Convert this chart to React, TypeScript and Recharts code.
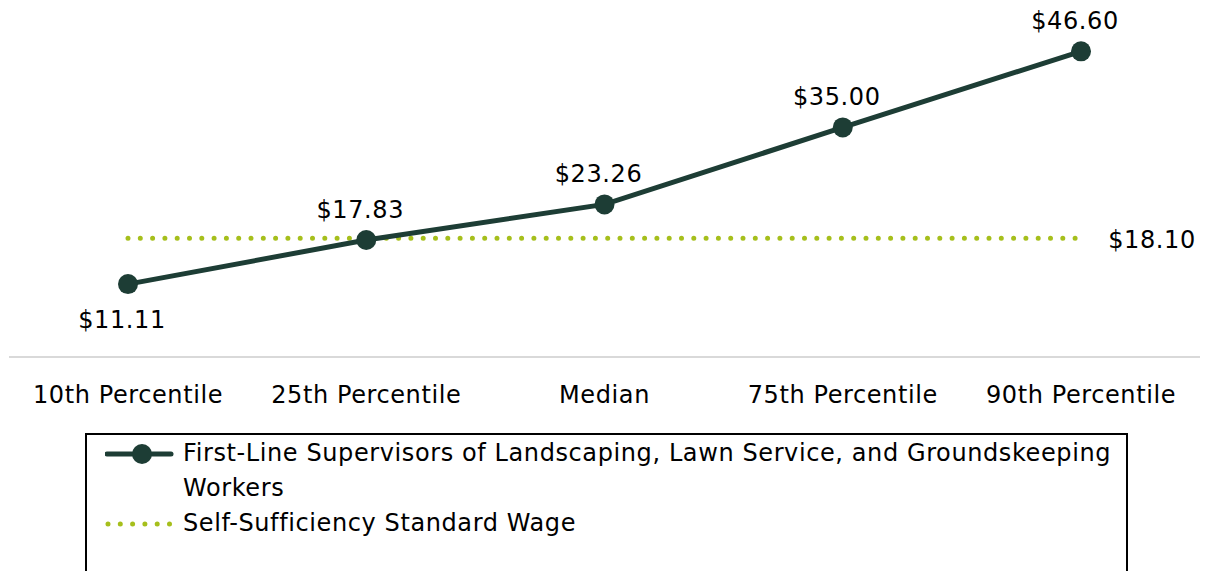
import React from 'react'
import { LineChart, Line, XAxis, YAxis, LabelList } from 'recharts'

const categories = ['10th Percentile', '25th Percentile', 'Median', '75th Percentile', '90th Percentile']
const wages = [11.11, 17.83, 23.26, 35.0, 46.6]
const standardWage = [18.1, 18.1, 18.1, 18.1, 18.1]

const seriesName = 'First-Line Supervisors of Landscaping, Lawn Service, and Groundskeeping Workers'
const standardName = 'Self-Sufficiency Standard Wage'

const FONT = '"DejaVu Sans", sans-serif'
const FS = 24
const LS = 0.6
const DARK = '#1d3d35'
const LIME = '#a6bf1c'

const data = categories.map((name, i) => ({
  name,
  wage: wages[i],
  standard: standardWage[i],
}))

const money = (v: number) => `$${v.toFixed(2)}`

// labels: first point below, the rest above
const WageLabel = (props: any) => {
  const { x, y, value, index } = props
  const below = index === 0
  return (
    <text
      x={x - 6}
      y={below ? y + 36 : y - 30}
      textAnchor="middle"
      dominantBaseline="central"
      fontFamily={FONT}
      fontSize={FS}
      letterSpacing={LS}
      fill="#000"
    >
      {money(value)}
    </text>
  )
}

const StandardLabel = (props: any) => {
  const { x, y, value, index } = props
  if (index !== standardWage.length - 1) return null
  return (
    <text
      x={x + 71}
      y={y + 2}
      textAnchor="middle"
      dominantBaseline="central"
      fontFamily={FONT}
      fontSize={FS}
      letterSpacing={LS}
      fill="#000"
    >
      {money(value)}
    </text>
  )
}

const CategoryTick = (props: any) => {
  const { x, y, payload } = props
  return (
    <text
      x={x}
      y={y + 30}
      textAnchor="middle"
      dominantBaseline="central"
      fontFamily={FONT}
      fontSize={FS}
      letterSpacing={LS}
      fill="#000"
    >
      {payload.value}
    </text>
  )
}

const ChartLegend = () => (
  <div
    style={{
      position: 'absolute',
      left: 85,
      top: 433,
      width: 1043,
      height: 200,
      border: '2px solid #000',
      fontFamily: FONT,
      fontSize: FS,
      letterSpacing: LS,
      color: '#000',
      boxSizing: 'border-box',
    }}
  >
    <svg width={70} height={110} style={{ position: 'absolute', left: 18, top: 0 }}>
      <line x1={2} y1={19} x2={66} y2={19} stroke={DARK} strokeWidth={5} strokeLinecap="round" />
      <circle cx={37} cy={19} r={10} fill={DARK} />
      <line x1={3} y1={89} x2={66} y2={89} stroke={LIME} strokeWidth={5} strokeDasharray="0 12.3" strokeLinecap="round" />
    </svg>
    <div style={{ position: 'absolute', left: 96, top: 1, width: 940, lineHeight: '35px' }}>
      <div>{seriesName}</div>
      <div>{standardName}</div>
    </div>
  </div>
)

export default function App() {
  return (
    <div style={{ position: 'absolute', left: 0, top: 0, width: 1206, height: 571, background: '#fff', overflow: 'hidden' }}>
      <LineChart width={1206} height={571} data={data} margin={{ top: 29, right: 6, left: 9, bottom: 154 }}>
        <XAxis
          dataKey="name"
          axisLine={{ stroke: '#d9d9d9', strokeWidth: 2 }}
          tickLine={false}
          tick={<CategoryTick />}
          height={60}
          interval={0}
          padding={{ left: 119, right: 119 }}
        />
        <YAxis hide domain={[0, 50]} />
        <Line
          dataKey="standard"
          stroke={LIME}
          strokeWidth={5}
          strokeDasharray="0 12.3"
          strokeLinecap="round"
          dot={false}
          isAnimationActive={false}
        >
          <LabelList dataKey="standard" content={<StandardLabel />} />
        </Line>
        <Line
          dataKey="wage"
          stroke={DARK}
          strokeWidth={5}
          dot={{ r: 10, fill: DARK, stroke: DARK, strokeWidth: 0 }}
          isAnimationActive={false}
        >
          <LabelList dataKey="wage" content={<WageLabel />} />
        </Line>
      </LineChart>
      <ChartLegend />
    </div>
  )
}
